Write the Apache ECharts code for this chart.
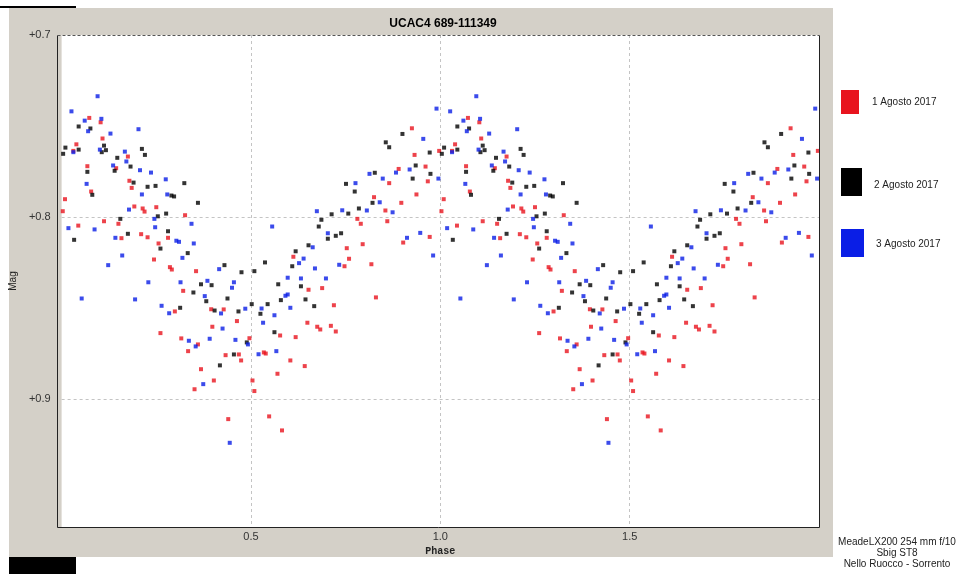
<!DOCTYPE html>
<html>
<head>
<meta charset="utf-8">
<title>UCAC4 689-111349</title>
<script src="https://cdn.jsdelivr.net/npm/echarts@6/dist/echarts.min.js"></script>
<style>
  html, body { margin: 0; padding: 0; background: #ffffff; }
  #chart { width: 958px; height: 574px; }
</style>
</head>
<body>
<div id="chart"></div>
<script>
// Phased light curve, one cycle per night; drawn over two cycles (phase 0-2).
const titleText = 'UCAC4 689-111349';
const seriesNames = ['1 Agosto 2017', '2 Agosto 2017', '3 Agosto 2017'];
const xTicks = [0.5, 1.0, 1.5];
const yTicks = [0.7, 0.8, 0.9];

// 1 Agosto 2017
const redPhase = [0.073,0.103,0.108,0.039,0.031,0.175,0.068,0.144,0.179,0.185,
  0.078,0.009,0.003,0.192,0.214,0.219,0.250,0.112,0.044,0.150,
  0.158,0.210,0.227,0.256,0.244,0.261,0.326,0.281,0.286,0.291,
  0.355,0.321,0.299,0.395,0.428,0.463,0.398,0.316,0.360,0.334,
  0.433,0.468,0.474,0.496,0.368,0.402,0.351,0.440,0.504,0.509,
  0.753,0.612,0.747,0.652,0.688,0.719,0.649,0.675,0.683,0.711,
  0.724,0.577,0.618,0.534,0.539,0.604,0.642,0.570,0.548,0.582,
  0.925,0.997,0.932,0.890,0.961,0.967,0.865,0.937,0.825,0.897,
  0.855,0.860,0.781,0.790,0.759,0.795,0.818,0.902,0.972,0.830];
const redMag = [0.7455,0.7479,0.7568,0.7600,0.7636,0.7667,0.7720,0.7731,0.7800,0.7839,
  0.7859,0.7901,0.7967,0.7941,0.7952,0.7969,0.7945,0.8022,0.8046,0.8036,
  0.8115,0.8093,0.8110,0.8144,0.8232,0.8636,0.7989,0.8113,0.8274,0.8287,
  0.8296,0.8404,0.8517,0.8505,0.8506,0.8570,0.8601,0.8665,0.8698,0.8735,
  0.8757,0.8753,0.8786,0.8664,0.8834,0.8896,0.8944,0.9108,0.8896,0.8954,
  0.8170,0.8217,0.8269,0.8398,0.8389,0.8483,0.8579,0.8601,0.8616,0.8596,
  0.8627,0.8649,0.8658,0.8742,0.8748,0.8786,0.8817,0.8859,0.9093,0.9170,
  0.7512,0.7636,0.7658,0.7735,0.7722,0.7803,0.7813,0.7875,0.7890,0.7921,
  0.7963,0.8022,0.8009,0.8036,0.8228,0.8148,0.8258,0.8139,0.8108,0.8440];

// 2 Agosto 2017
const blackPhase = [0.045,0.076,0.010,0.004,0.045,0.112,0.117,0.106,0.212,0.220,
  0.147,0.182,0.140,0.068,0.190,0.248,0.227,0.081,0.254,0.155,
  0.175,0.033,0.261,0.324,0.290,0.297,0.360,0.276,0.281,0.333,
  0.430,0.475,0.368,0.396,0.348,0.438,0.382,0.404,0.313,0.467,
  0.502,0.509,0.455,0.489,0.418,0.751,0.713,0.686,0.679,0.738,
  0.724,0.703,0.652,0.618,0.537,0.609,0.572,0.632,0.579,0.644,
  0.667,0.544,0.525,0.562,0.900,0.856,0.865,0.972,0.935,0.974,
  0.827,0.927,0.774,0.821,0.785,0.757];
const blackMag = [0.7502,0.7513,0.7618,0.7652,0.7629,0.7607,0.7632,0.7643,0.7625,0.7658,
  0.7674,0.7722,0.7745,0.7751,0.7810,0.7828,0.7833,0.7877,0.7995,0.8009,
  0.8091,0.8124,0.8172,0.7813,0.7881,0.7886,0.7921,0.7980,0.8077,0.8197,
  0.8263,0.8302,0.8368,0.8373,0.8413,0.8446,0.8461,0.8512,0.8497,0.8517,
  0.8477,0.8296,0.8753,0.8687,0.8813,0.7817,0.7984,0.8014,0.8051,0.8088,
  0.8102,0.8118,0.8154,0.8187,0.8248,0.8269,0.8368,0.8379,0.8455,0.8451,
  0.8488,0.8477,0.8530,0.8631,0.7543,0.7589,0.7616,0.7645,0.7716,0.7762,
  0.7756,0.7788,0.7859,0.7921,0.7952,0.7980];

// 3 Agosto 2017
const bluePhase = [0.095,0.026,0.061,0.070,0.105,0.129,0.203,0.031,0.101,0.167,
  0.136,0.171,0.207,0.236,0.066,0.212,0.178,0.245,0.247,0.018,
  0.087,0.142,0.160,0.123,0.229,0.053,0.194,0.264,0.275,0.279,
  0.343,0.303,0.310,0.349,0.319,0.416,0.455,0.450,0.314,0.385,
  0.378,0.284,0.421,0.485,0.425,0.336,0.354,0.391,0.459,0.492,
  0.374,0.444,0.674,0.741,0.556,0.703,0.663,0.639,0.627,0.733,
  0.669,0.597,0.632,0.698,0.597,0.591,0.604,0.528,0.562,0.532,
  0.567,0.520,0.990,0.955,0.813,0.776,0.848,0.883,0.919,0.995,
  0.806,0.840,0.874,0.912,0.947,0.981];
const blueMag = [0.7336,0.7419,0.7470,0.7528,0.7460,0.7541,0.7517,0.7643,0.7629,0.7640,
  0.7716,0.7694,0.7742,0.7755,0.7817,0.7875,0.7958,0.8009,0.8055,0.8060,
  0.8067,0.8113,0.8210,0.8263,0.8357,0.8446,0.8451,0.8486,0.7792,0.7875,
  0.8036,0.8129,0.8135,0.8144,0.8223,0.8285,0.8357,0.8387,0.8357,0.8349,
  0.8433,0.8527,0.8528,0.8502,0.8611,0.8678,0.8709,0.8667,0.8673,0.8698,
  0.8916,0.9238,0.7967,0.7962,0.8051,0.8088,0.8165,0.8227,0.8252,0.8261,
  0.8281,0.8332,0.8336,0.8336,0.8424,0.8431,0.8497,0.8501,0.8538,0.8579,
  0.8735,0.8752,0.7404,0.7570,0.7762,0.7813,0.7788,0.7755,0.7738,0.7788,
  0.7963,0.7918,0.7973,0.8113,0.8086,0.8210];

const colors = ['#e8141e', '#000000', '#0a1ee6'];
const FONT = 'Liberation Sans, Arial, sans-serif';
const PLOT = { left: 57, top: 35, width: 762, height: 492 };

// Each observation is plotted at its phase and again one cycle later.
function twoCycles(phase, mag) {
  const out = [];
  for (let c = 0; c < 2; c++) {
    for (let i = 0; i < phase.length; i++) out.push([phase[i] + c, mag[i]]);
  }
  return out;
}

const isTick = (v, list) => list.some(t => Math.abs(t - v) < 1e-6);

const chart = echarts.init(document.getElementById('chart'), null, { renderer: 'canvas' });

// Window panel behind the plot
const panel = [
  { type: 'rect', z: -10, shape: { x: 9, y: 8, width: 824, height: 549 }, style: { fill: '#d4d0c8' } },
  { type: 'rect', z: -10, shape: { x: 0, y: 6, width: 76, height: 2 }, style: { fill: '#000' } },
  { type: 'rect', z: -10, shape: { x: 9, y: 557, width: 67, height: 17 }, style: { fill: '#000' } }
];

// Plot frame: solid on three sides, dashed along the top
const L = PLOT.left + 0.5, T = PLOT.top + 0.5;
const R = PLOT.left + PLOT.width + 0.5, B = PLOT.top + PLOT.height + 0.5;
const frame = [
  { type: 'polyline', z: 100, shape: { points: [[R, T], [R, B], [L, B], [L, T]] },
    style: { stroke: '#222', lineWidth: 1, fill: null } },
  { type: 'line', z: 100, shape: { x1: L, y1: T, x2: R, y2: T },
    style: { stroke: '#555', lineWidth: 1, lineDash: [3, 2] } }
];

const legendBoxes = [
  { y: 90, w: 18, h: 24, ty: 102, tx: 872 },
  { y: 168, w: 21, h: 28, ty: 185, tx: 874 },
  { y: 229, w: 23, h: 28, ty: 244, tx: 876 }
];
const legendItems = [];
legendBoxes.forEach((b, i) => {
  legendItems.push({ type: 'rect', shape: { x: 841, y: b.y, width: b.w, height: b.h }, style: { fill: colors[i] } });
  legendItems.push({ type: 'text', x: b.tx, y: b.ty,
    style: { text: seriesNames[i], fill: '#222', font: '10px ' + FONT, textVerticalAlign: 'middle' } });
});

const footer = ['MeadeLX200 254 mm f/10', 'Sbig ST8', 'Nello Ruocco - Sorrento'];
const footerItems = footer.map((t, i) => ({
  type: 'text', x: 897, y: 542 + i * 11,
  style: { text: t, fill: '#222', font: '10px ' + FONT, textAlign: 'center', textVerticalAlign: 'middle' }
}));

chart.setOption({
  animation: false,
  backgroundColor: '#ffffff',
  title: {
    text: titleText, left: 438, top: 13, textAlign: 'center',
    textStyle: { fontFamily: FONT, fontSize: 12, fontWeight: 'bold', color: '#000' }
  },
  graphic: panel.concat(frame, legendItems, footerItems),
  grid: {
    left: PLOT.left, top: PLOT.top, width: PLOT.width, height: PLOT.height,
    show: true, backgroundColor: '#ffffff', borderWidth: 0
  },
  xAxis: {
    type: 'value', min: 0, max: 2, interval: 0.5,
    name: 'Phase', nameLocation: 'middle', nameGap: 16,
    nameTextStyle: { fontFamily: 'Liberation Mono, DejaVu Sans Mono, monospace', fontSize: 10, fontWeight: 'bold', color: '#222' },
    axisLine: { show: false }, axisTick: { show: false },
    axisLabel: {
      margin: 4, fontFamily: FONT, fontSize: 11, color: '#333',
      formatter: v => isTick(v, xTicks) ? v.toFixed(1) : ''
    },
    splitLine: { show: true, showMinLine: false, showMaxLine: false,
      lineStyle: { color: '#c4c4c4', type: [3, 3], width: 1 } }
  },
  yAxis: {
    type: 'value', inverse: true, min: 0.7, max: 0.97, interval: 0.1,
    name: 'Mag', nameLocation: 'middle', nameGap: 35,
    nameTextStyle: { fontFamily: FONT, fontSize: 10, color: '#222' },
    axisLine: { show: false }, axisTick: { show: false },
    axisLabel: {
      margin: 11, fontFamily: FONT, fontSize: 11, color: '#333',
      formatter: v => isTick(v, yTicks) ? '+' + v.toFixed(1) : ''
    },
    splitLine: { show: true, showMinLine: false, showMaxLine: false,
      lineStyle: { color: '#c4c4c4', type: [3, 3], width: 1 } }
  },
  series: [
    { name: seriesNames[0], type: 'scatter', symbol: 'rect', symbolSize: 4,
      itemStyle: { color: colors[0] }, data: twoCycles(redPhase, redMag) },
    { name: seriesNames[1], type: 'scatter', symbol: 'rect', symbolSize: 4,
      itemStyle: { color: colors[1] }, data: twoCycles(blackPhase, blackMag) },
    { name: seriesNames[2], type: 'scatter', symbol: 'rect', symbolSize: 4,
      itemStyle: { color: colors[2] }, data: twoCycles(bluePhase, blueMag) }
  ]
});
</script>
</body>
</html>
